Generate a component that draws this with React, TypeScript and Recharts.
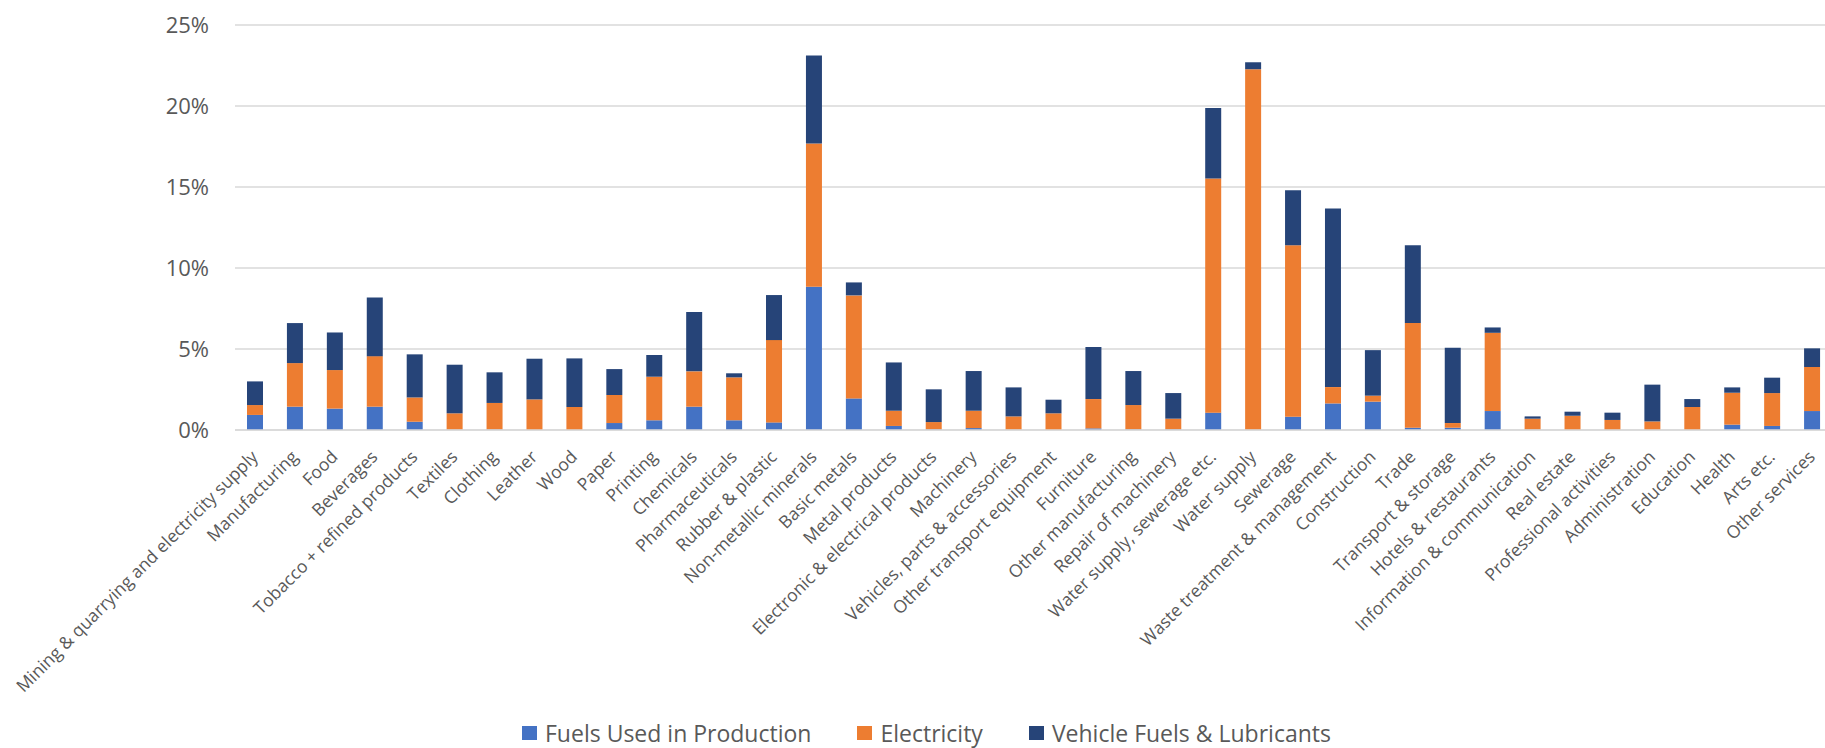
import { BarChart, Bar, XAxis, YAxis, CartesianGrid, Legend } from "recharts";

const categories = [
  "Mining & quarrying and electricity supply",
  "Manufacturing",
  "Food",
  "Beverages",
  "Tobacco + refined products",
  "Textiles",
  "Clothing",
  "Leather",
  "Wood",
  "Paper",
  "Printing",
  "Chemicals",
  "Pharmaceuticals",
  "Rubber & plastic",
  "Non-metallic minerals",
  "Basic metals",
  "Metal products",
  "Electronic & electrical products",
  "Machinery",
  "Vehicles, parts & accessories",
  "Other transport equipment",
  "Furniture",
  "Other manufacturing",
  "Repair of machinery",
  "Water supply, sewerage etc.",
  "Water supply",
  "Sewerage",
  "Waste treatment & management",
  "Construction",
  "Trade",
  "Transport & storage",
  "Hotels & restaurants",
  "Information & communication",
  "Real estate",
  "Professional activities",
  "Administration",
  "Education",
  "Health",
  "Arts etc.",
  "Other services",
];

// values in percent
const fuels = [
  0.93, 1.44, 1.32, 1.44, 0.51, 0.02, 0.03, 0, 0, 0.43,
  0.6, 1.44, 0.6, 0.47, 8.84, 1.95, 0.25, 0.04, 0.12, 0.02,
  0, 0.1, 0.04, 0.04, 1.07, 0.02, 0.82, 1.64, 1.75, 0.14,
  0.14, 1.17, 0.02, 0, 0, 0, 0, 0.33, 0.25, 1.17,
];

const electricity = [
  0.61, 2.69, 2.38, 3.12, 1.5, 1.01, 1.64, 1.89, 1.42, 1.73,
  2.69, 2.18, 2.65, 5.08, 8.84, 6.36, 0.94, 0.45, 1.07, 0.82,
  1.03, 1.81, 1.5, 0.66, 14.45, 22.25, 10.59, 1.01, 0.37, 6.46,
  0.29, 4.83, 0.68, 0.88, 0.62, 0.53, 1.42, 1.97, 2.03, 2.72,
];

const vehicle = [
  1.46, 2.47, 2.32, 3.62, 2.66, 3.0, 1.89, 2.51, 3.0, 1.6,
  1.34, 3.66, 0.25, 2.78, 5.43, 0.8, 2.98, 2.02, 2.45, 1.79,
  0.84, 3.21, 2.1, 1.58, 4.36, 0.43, 3.39, 11.02, 2.81, 4.81,
  4.65, 0.33, 0.14, 0.25, 0.45, 2.27, 0.49, 0.33, 0.95, 1.15,
];

const yTicks = [0, 5, 10, 15, 20, 25];

const series = [
  { key: "fuels", label: "Fuels Used in Production", color: "#4472C4" },
  { key: "electricity", label: "Electricity", color: "#ED7D31" },
  { key: "vehicle", label: "Vehicle Fuels & Lubricants", color: "#264478" },
];

const data = categories.map((name, i) => ({
  name,
  fuels: fuels[i],
  electricity: electricity[i],
  vehicle: vehicle[i],
}));

const FONT = "'Open Sans', sans-serif";
const TEXT = "#595959";

function XTick({ x, y, payload }: any) {
  return (
    <g transform={`translate(${x + 4},${y + 28})`}>
      <text
        textAnchor="end"
        transform="rotate(-45)"
        fontSize={17.5}
        fill={TEXT}
        fontFamily={FONT}
      >
        {payload.value}
      </text>
    </g>
  );
}

function LegendContent() {
  return (
    <div style={{ display: "flex", alignItems: "center", fontFamily: FONT }}>
      {series.map((s) => (
        <div
          key={s.key}
          style={{ display: "flex", alignItems: "center", marginRight: 46 }}
        >
          <span
            style={{
              width: 15,
              height: 14,
              background: s.color,
              display: "inline-block",
              marginRight: 8,
            }}
          />
          <span style={{ fontSize: 23, color: TEXT, lineHeight: "24px" }}>
            {s.label}
          </span>
        </div>
      ))}
    </div>
  );
}

export default function App() {
  return (
    <div
      style={{
        position: "absolute",
        left: 0,
        top: 0,
        width: 1825,
        height: 748,
        overflow: "hidden",
        background: "#fff",
      }}
    >
      <BarChart
        width={1840}
        height={748}
        data={data}
        margin={{ top: 25, right: 8, left: 0, bottom: 0 }}
        barSize={16}
      >
        <CartesianGrid vertical={false} stroke="#D9D9D9" strokeWidth={1.5} />
        <XAxis
          dataKey="name"
          interval={0}
          height={318}
          tickLine={false}
          tickSize={0}
          tickMargin={0}
          axisLine={{ stroke: "#D9D9D9", strokeWidth: 1.5 }}
          tick={<XTick />}
        />
        <YAxis
          width={235}
          domain={[0, 25]}
          ticks={yTicks}
          axisLine={false}
          tickLine={false}
          tickSize={0}
          tickMargin={26}
          tickFormatter={(v) => `${v}%`}
          tick={{ fontSize: 22, fill: TEXT, fontFamily: FONT }}
        />
        <Legend
          layout="horizontal"
          verticalAlign="middle"
          align="center"
          content={<LegendContent />}
          wrapperStyle={{ top: 721, left: 522, width: 1100, height: 24 }}
        />
        {series.map((s) => (
          <Bar
            key={s.key}
            dataKey={s.key}
            name={s.label}
            stackId="a"
            fill={s.color}
            isAnimationActive={false}
          />
        ))}
      </BarChart>
    </div>
  );
}
